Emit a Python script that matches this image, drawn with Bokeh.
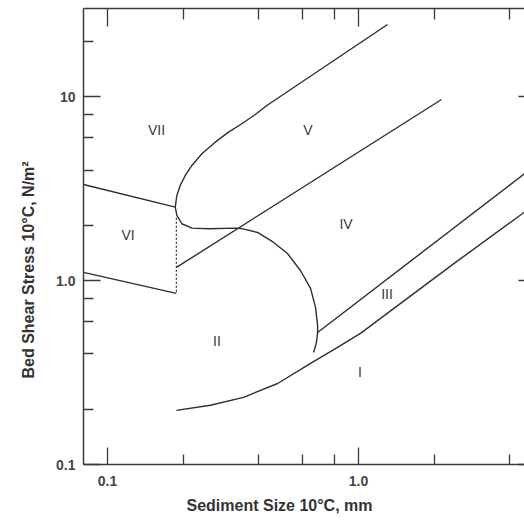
from bokeh.plotting import figure
from bokeh.models import LogAxis, FixedTicker, Range1d, ColumnDataSource, Title
from bokeh.core.properties import value
from bokeh.embed import file_html
from bokeh.resources import INLINE

# ---------------- data ----------------
x_major = [0.1, 1.0]
x_minor = [0.2, 0.4, 0.6, 0.8, 2.0, 4.0]
y_major = [0.1, 1.0, 10.0]
y_minor = [0.2, 0.4, 0.6, 0.8, 2.0, 4.0, 6.0, 8.0, 20.0]
x_tick_labels = {0.1: "0.1", 1.0: "1.0"}
y_tick_labels = {0.1: "0.1", 1.0: "1.0", 10.0: "10"}

# VI upper boundary
vi_top_d = [0.0802, 0.1861]
vi_top_t = [3.34, 2.514]
# VI lower boundary
vi_bot_d = [0.0802, 0.188]
vi_bot_t = [1.11, 0.853]
# dashed vertical
dash_d = [0.188, 0.188]
dash_t = [2.20, 0.853]
# VII/V upper branch -> cusp -> lower branch -> II/IV boundary
main_d = [1.305, 0.4312, 0.3877, 0.3428, 0.3034, 0.2686, 0.2376, 0.2168,
          0.2040, 0.1948, 0.1889, 0.1861,
          0.1889, 0.1977, 0.2168, 0.2526, 0.3227, 0.339, 0.396, 0.459,
          0.521, 0.587, 0.644, 0.674, 0.687, 0.687, 0.680, 0.662]
main_t = [24.8, 8.990, 8.031, 7.150, 6.436, 5.677, 4.909, 4.240,
          3.741, 3.301, 2.911, 2.514,
          2.266, 2.042, 1.933, 1.918, 1.933, 1.926, 1.831, 1.616,
          1.407, 1.137, 0.908, 0.716, 0.571, 0.523, 0.462, 0.407]
# V / IV boundary
v_iv_d = [0.188, 2.141]
v_iv_t = [1.181, 9.69]
# IV / III boundary
iii_d = [0.687, 4.585]
iii_t = [0.523, 3.82]
# III / I boundary (and II / I)
i_d = [0.188, 0.257, 0.348, 0.476, 0.644, 0.825, 1.018, 2.435, 4.585]
i_t = [0.197, 0.210, 0.232, 0.276, 0.355, 0.434, 0.517, 1.258, 2.362]

# region labels
region_names = ["VII", "VI", "V", "IV", "II", "III", "I"]
region_d = [0.1567, 0.1207, 0.629, 0.892, 0.273, 1.299, 1.014]
region_t = [6.57, 1.764, 6.57, 2.04, 0.4675, 0.842, 0.317]

x_title = "Sediment Size 10°C, mm"
y_title = "Bed Shear Stress 10°C, N/m²"

# ---------------- figure ----------------
FONT = "Liberation Sans"
INK = "#2e2e2e"
AX = "#3a3a3a"

p = figure(width=524, height=525, x_axis_type="log", y_axis_type="log",
           x_range=Range1d(0.0802, 4.585), y_range=Range1d(0.1, 30.3),
           output_backend="svg", toolbar_location=None,
           min_border_left=83, min_border_right=0, min_border_top=8,
           min_border_bottom=61)
p.outline_line_color = None
p.background_fill_color = "white"
p.border_fill_color = "white"
p.xgrid.visible = False
p.ygrid.visible = False


def style_axis(ax, major, minor, labels, show_labels, major_len, minor_len):
    ax.ticker = FixedTicker(ticks=major, minor_ticks=minor)
    ax.major_tick_in = major_len
    ax.major_tick_out = 0
    ax.minor_tick_in = minor_len
    ax.minor_tick_out = 0
    ax.axis_line_color = AX
    ax.axis_line_width = 1.5
    ax.major_tick_line_color = AX
    ax.major_tick_line_width = 1.3
    ax.minor_tick_line_color = AX
    ax.minor_tick_line_width = 1.3
    ax.major_label_overrides = labels
    if show_labels:
        ax.major_label_text_font = FONT
        ax.major_label_text_font_size = "14px"
        ax.major_label_text_font_style = "bold"
        ax.major_label_text_color = "#444444"
    else:
        ax.major_label_text_font_size = "1px"
        ax.major_label_text_alpha = 0.0
        ax.major_label_standoff = 0


xb = p.xaxis[0]
style_axis(xb, x_major, x_minor, x_tick_labels, True, 17, 10)
xb.major_label_standoff = 11
yl = p.yaxis[0]
style_axis(yl, y_major, y_minor, y_tick_labels, True, 17, 10)
yl.major_label_standoff = 8

xt = LogAxis()
style_axis(xt, x_major, x_minor, x_tick_labels, False, 18, 11)
p.add_layout(xt, "above")

yr = LogAxis()
style_axis(yr, y_major, y_minor, y_tick_labels, False, 6, 0)
yr.axis_line_color = None
yr.minor_tick_line_color = None
p.add_layout(yr, "right")

# ---------------- curves ----------------
LW = 1.4
p.line(vi_top_d, vi_top_t, line_color=INK, line_width=LW)
p.line(vi_bot_d, vi_bot_t, line_color=INK, line_width=LW)
p.line(dash_d, dash_t, line_color=INK, line_width=1.2, line_dash="2 2")
p.line(main_d, main_t, line_color=INK, line_width=LW, line_join="round")
p.line(v_iv_d, v_iv_t, line_color=INK, line_width=LW)
p.line(iii_d, iii_t, line_color=INK, line_width=LW)
p.line(i_d, i_t, line_color=INK, line_width=LW, line_join="round")

src = ColumnDataSource(dict(x=region_d, y=region_t, name=region_names))
p.text(x="x", y="y", text="name", source=src, text_font=value(FONT),
       text_font_size=value("14px"), text_color="#3a3a3a",
       text_align="center", text_baseline="middle")

# ---------------- axis titles ----------------
p.add_layout(Title(text=x_title, align="left", offset=103,
                   vertical_align="bottom",
                   text_font=FONT, text_font_size="16px",
                   text_font_style="bold", text_color="#333333",
                   standoff=12), "below")
p.add_layout(Title(text=y_title, align="left", offset=86,
                   vertical_align="middle",
                   text_font=FONT, text_font_size="16px",
                   text_font_style="bold", text_color="#333333",
                   standoff=32), "left")

open("out.html", "w").write(file_html(p, INLINE))
